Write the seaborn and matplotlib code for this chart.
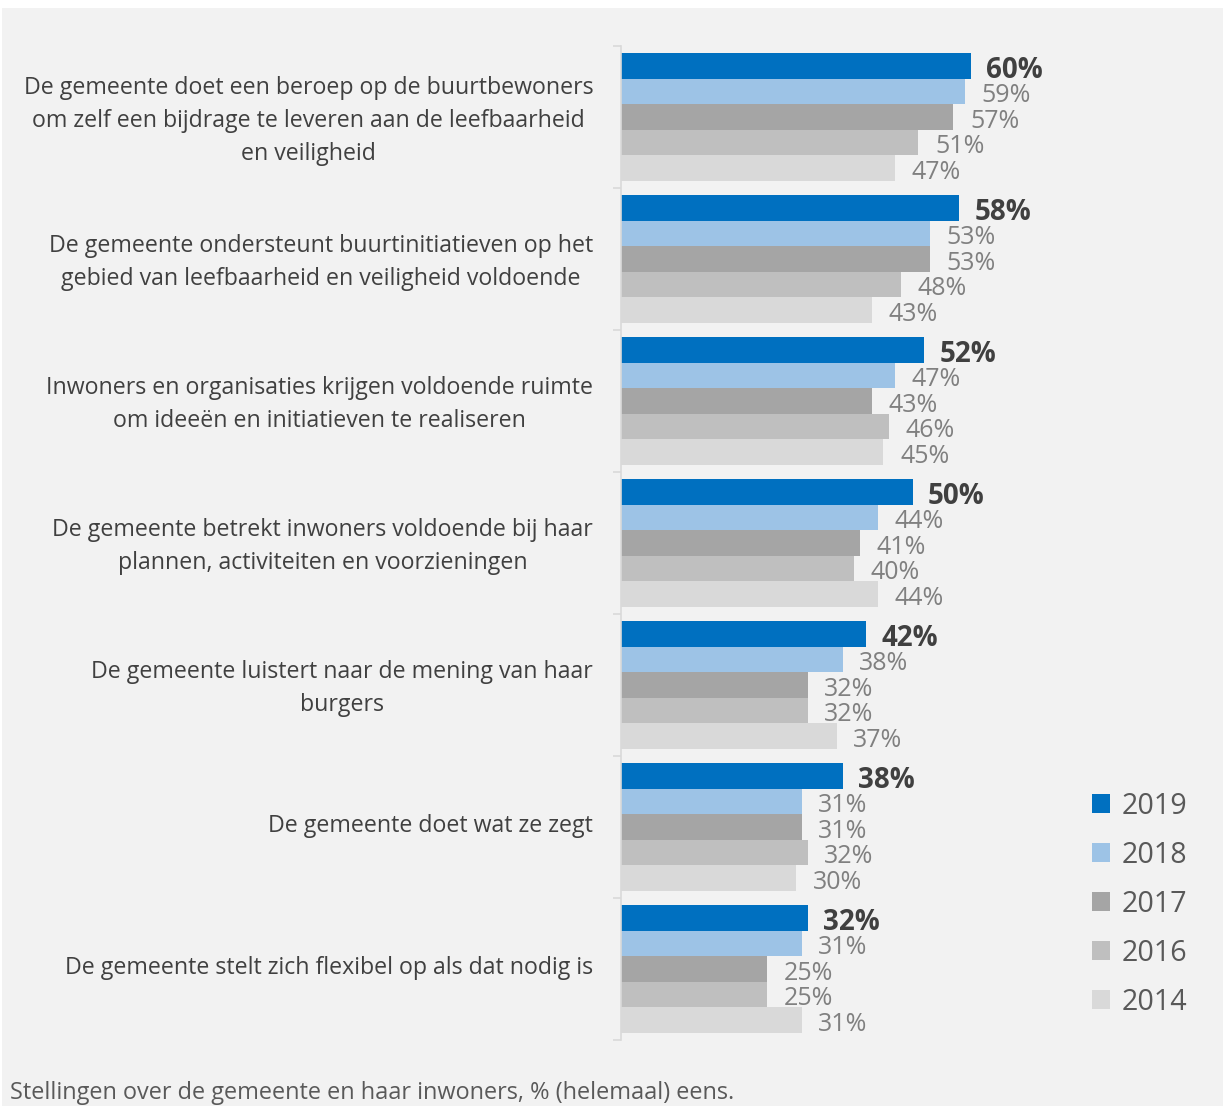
import matplotlib
matplotlib.use("Agg")
import matplotlib.pyplot as plt
from matplotlib.patches import Rectangle
from matplotlib.transforms import ScaledTranslation
import seaborn as sns
import pandas as pd
import numpy as np

categories = [
    "De gemeente doet een beroep op de buurtbewoners\nom zelf een bijdrage te leveren aan de leefbaarheid\nen veiligheid",
    "De gemeente ondersteunt buurtinitiatieven op het\ngebied van leefbaarheid en veiligheid voldoende",
    "Inwoners en organisaties krijgen voldoende ruimte\nom ideeën en initiatieven te realiseren",
    "De gemeente betrekt inwoners voldoende bij haar\nplannen, activiteiten en voorzieningen",
    "De gemeente luistert naar de mening van haar\nburgers",
    "De gemeente doet wat ze zegt",
    "De gemeente stelt zich flexibel op als dat nodig is",
]
years = ["2019", "2018", "2017", "2016", "2014"]
v2019 = [60, 58, 52, 50, 42, 38, 32]
v2018 = [59, 53, 47, 44, 38, 31, 31]
v2017 = [57, 53, 43, 41, 32, 31, 25]
v2016 = [51, 48, 46, 40, 32, 32, 25]
v2014 = [47, 43, 45, 44, 37, 30, 31]
colors = ["#0070C0", "#9DC3E6", "#A5A5A5", "#BFBFBF", "#D9D9D9"]
footer = "Stellingen over de gemeente en haar inwoners, % (helemaal) eens."

series = {"2019": v2019, "2018": v2018, "2017": v2017, "2016": v2016, "2014": v2014}
rows = []
for y in years:
    for c, v in zip(categories, series[y]):
        rows.append({"cat": c, "year": y, "val": v})
df = pd.DataFrame(rows)

sns.set_theme(style="white")
plt.rcParams["font.family"] = ["Open Sans", "DejaVu Sans"]

bg = "#F2F2F2"
W, H = 1224, 1106
fig = plt.figure(figsize=(W/100, H/100), dpi=100, facecolor="white")
fig.patches.append(Rectangle((2/W, 0), 1 - 3/W, 1 - 8/H, transform=fig.transFigure,
                             facecolor=bg, edgecolor="none", zorder=-10))

ax = fig.add_axes([621/W, 1-1040/H, (1204-621)/W, (1040-46)/H])
ax.set_facecolor(bg)
ax.patch.set_alpha(0)

sns.barplot(data=df, y="cat", x="val", hue="year", hue_order=years, order=categories,
            palette=colors, orient="h", width=0.9, gap=0, ax=ax, legend=True,
            saturation=1, edgecolor="none", linewidth=0, errorbar=None)

ax.set_xlim(0, 100)
ax.set_ylim(len(categories) - 0.5, -0.5)
ax.set_xlabel("")
ax.set_ylabel("")
ax.set_xticks([])
for s in ["top", "right", "bottom"]:
    ax.spines[s].set_visible(False)
ax.spines["left"].set_color("#D9D9D9")
ax.spines["left"].set_linewidth(1.2)

ax.tick_params(axis="y", which="major", left=False, length=0, pad=20, labelsize=16.7,
               labelcolor="#404040")
ax.set_yticks(np.arange(-0.5, len(categories) + 0.5, 1), minor=True)
ax.tick_params(axis="y", which="minor", left=True, length=6, width=1.2, color="#D9D9D9",
               direction="out")
shift = ScaledTranslation(0, 0.04, fig.dpi_scale_trans)
for lab in ax.get_yticklabels():
    lab.set_multialignment("center")
    lab.set_linespacing(1.5)
    lab.set_transform(lab.get_transform() + shift)

for i, cont in enumerate(ax.containers):
    vals = series[years[i]]
    if i == 0:
        pad = 11
        anns = ax.bar_label(cont, labels=[f"{v}%" for v in vals], padding=pad, fontsize=20,
                            fontweight="bold", color="#404040")
    else:
        pad = 12
        anns = ax.bar_label(cont, labels=[f"{v}%" for v in vals], padding=pad, fontsize=18,
                            color="#808080")
    for a in anns:
        a.xyann = (pad, -3)

leg = ax.legend(loc="upper left", bbox_to_anchor=((1066-621)/(1204-621), 1-(766-46)/(1040-46)),
                frameon=False, fontsize=20.6, labelcolor="#595959",
                handlelength=0.65, handleheight=0.65, handletextpad=0.4, labelspacing=0.7)

fig.text(10/W, 1-1093/H, footer, fontsize=16.9, color="#595959", va="center", ha="left")

fig.savefig("out.png", dpi=100, facecolor="white")
